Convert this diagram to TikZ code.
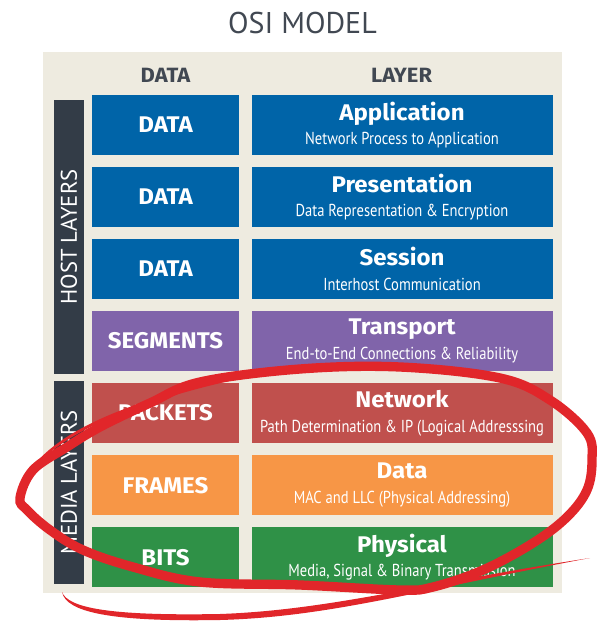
\documentclass[tikz,border=0pt]{standalone}
\usepackage{fontspec}
\setmainfont{PT Sans}
\newfontfamily\narrowfont[FakeStretch=0.84]{PT Sans}
\newfontfamily\heavyfont[FakeStretch=1.06]{Fira Sans}
\usetikzlibrary{positioning}

\definecolor{osiblue}{HTML}{0064A8}
\definecolor{osipurple}{HTML}{8064AA}
\definecolor{osired}{HTML}{C0504D}
\definecolor{osiorange}{HTML}{F79646}
\definecolor{osigreen}{HTML}{2F9147}
\definecolor{osidark}{HTML}{333C47}
\definecolor{osibeige}{HTML}{EEEBE0}
\definecolor{osigrey}{HTML}{414852}
\definecolor{inkred}{HTML}{E1262A}

\begin{document}
\begin{tikzpicture}[x=0.75pt,y=-0.75pt,
    datbox/.style={minimum width=110.25pt,minimum height=45pt,inner sep=0pt,
        text=white,font=\heavyfont\bfseries\fontsize{17}{18}\selectfont},
    laybox/.style={minimum width=225.75pt,minimum height=45pt,inner sep=0pt,
        text=white,align=center,font=\fontsize{17}{17.5}\selectfont},
    sidebar/.style={fill=osidark,minimum height=22.5pt,inner sep=0pt,
        text=white,rotate=90,font=\fontsize{17}{17}\selectfont},
    hdr/.style={text=osigrey,anchor=base,font=\heavyfont\bfseries\fontsize{15.5}{16}\selectfont}]
    \useasboundingbox (0,0) rectangle (596,623);
    %% 标题
    \node[anchor=base,text=osigrey,font=\fontsize{22.5}{22.5}\selectfont] (title)
        at (302.5,34) {OSI MODEL};
    %% 底板
    \fill[osibeige] (43,52) rectangle (562,593);
    \node[hdr] (hdata) at (165.5,83) {DATA};
    \node[hdr] (hlayer) at (401.5,83) {LAYER};
    %% 左侧竖条
    \node[sidebar,minimum width=205.5pt] (host) at (69,237) {HOST LAYERS};
    \node[sidebar,minimum width=152.25pt] (media) at (69,482.5) {MEDIA LAYERS};
    %% 数据列
    \node[datbox,fill=osiblue] (d1) at (165.5,125) {DATA};
    \node[datbox,fill=osiblue,below=8.625pt of d1] (d2) {DATA};
    \node[datbox,fill=osiblue,below=8.625pt of d2] (d3) {DATA};
    \node[datbox,fill=osipurple,below=8.625pt of d3] (d4) {SEGMENTS};
    \node[datbox,fill=osired,below=8.625pt of d4] (d5) {PACKETS};
    \node[datbox,fill=osiorange,below=8.625pt of d5] (d6) {FRAMES};
    \node[datbox,fill=osigreen,below=8.625pt of d6] (d7) {BITS};
    %% 层列
    \node[laybox,fill=osiblue,right=9pt of d1] (l1)
        {{\heavyfont\bfseries Application}\\[1pt]{\narrowfont\fontsize{13}{13}\selectfont Network Process to Application}};
    \node[laybox,fill=osiblue,right=9pt of d2] (l2)
        {{\heavyfont\bfseries Presentation}\\[1pt]{\narrowfont\fontsize{13}{13}\selectfont Data Representation \& Encryption}};
    \node[laybox,fill=osiblue,right=9pt of d3] (l3)
        {{\heavyfont\bfseries Session}\\[1pt]{\narrowfont\fontsize{13}{13}\selectfont Interhost Communication}};
    \node[laybox,fill=osipurple,right=9pt of d4] (l4)
        {{\heavyfont\bfseries Transport}\\[1pt]{\narrowfont\fontsize{13}{13}\selectfont End-to-End Connections \& Reliability}};
    \node[laybox,fill=osired,right=9pt of d5] (l5)
        {{\heavyfont\bfseries Network}\\[1pt]{\narrowfont\fontsize{13}{13}\selectfont Path Determination \& IP (Logical Addresssing}};
    \node[laybox,fill=osiorange,right=9pt of d6] (l6)
        {{\heavyfont\bfseries Data}\\[1pt]{\narrowfont\fontsize{13}{13}\selectfont MAC and LLC (Physical Addressing)}};
    \node[laybox,fill=osigreen,right=9pt of d7] (l7)
        {{\heavyfont\bfseries Physical}\\[1pt]{\narrowfont\fontsize{13}{13}\selectfont Media, Signal \& Binary Transmission}};
    % 红色圈
    \draw[inkred,line width=7pt] plot[smooth cycle,tension=0.6] coordinates {
        (20,498) (33,470) (67,447) (100,427) (150,403) (200,382) (300,369)
        (400,367) (500,378) (550,400) (587,433) (592,460) (587,490) (567,517)
        (533,543) (483,570) (433,587) (400,590) (300,585) (200,582) (133,567)
        (83,550) (50,530) (27,510)};
    % 左上加粗
    \fill[inkred] (16,495) .. controls (40,440) and (120,400) .. (300,366)
        .. controls (140,392) and (50,430) .. (24,480) -- cycle;
    % 笔尾
    \fill[inkred] (62,592) .. controls (66,612) and (110,622) .. (220,620)
        .. controls (330,617) and (420,590) .. (590,558)
        .. controls (420,584) and (330,610) .. (220,614)
        .. controls (110,616) and (68,608) .. (62,592) -- cycle;
\end{tikzpicture}
\end{document}
